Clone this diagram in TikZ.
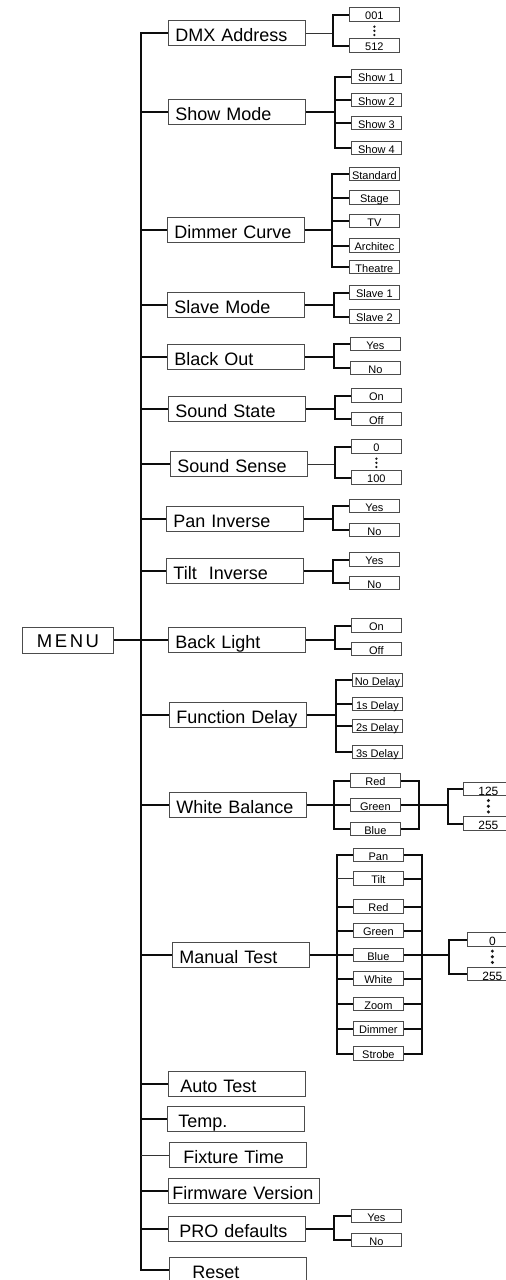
\documentclass[tikz,border=0pt]{standalone}
\usepackage{fontspec}
\setmainfont{Liberation Sans}
\usetikzlibrary{positioning,calc}

\begin{document}
\begin{tikzpicture}[x=1pt, y=-1pt,
    mainbox/.style={draw=black!70, line width=0.9pt, rectangle, anchor=west, align=left, text width=123pt, inner xsep=7pt, inner ysep=0pt, minimum height=24.5pt, text height=16.5pt, text depth=0pt, font=\fontsize{18}{18}\selectfont},
    menubox/.style={draw=black!70, line width=0.9pt, rectangle, anchor=west, inner sep=0pt, minimum width=91pt, minimum height=26pt, text height=14pt, text depth=0pt, font={\fontsize{18.5}{18.5}\selectfont\addfontfeature{LetterSpace=14}}},
    subbox/.style={draw=black!70, line width=0.8pt, rectangle, anchor=west, inner sep=0pt, minimum width=50pt, minimum height=13.5pt, text height=10pt, text depth=0pt, font=\fontsize{11}{11}\selectfont},
    numbox/.style={subbox, text height=12pt, font=\fontsize{12}{12}\selectfont},
    link/.style={line width=2pt, draw=black!95},
    thinlink/.style={line width=1pt, draw=black!80}]

    \useasboundingbox (0,0) rectangle (506,1280);

    % menu and first level
    \node[menubox] (menu) at (22,640) {MENU};

    \node[mainbox] (dmx) at (168,33) {DMX Address};
    \node[mainbox] (showmode) at (168,112) {Show Mode};
    \node[mainbox] (dimmer) at (167,230) {Dimmer Curve};
    \node[mainbox] (slave) at (167,305) {Slave Mode};
    \node[mainbox] (blackout) at (167,357) {Black Out};
    \node[mainbox] (sstate) at (168,409) {Sound State};
    \node[mainbox] (ssense) at (170,464) {Sound Sense};
    \node[mainbox] (pan) at (166,519) {Pan Inverse};
    \node[mainbox] (tilt) at (166,571) {Tilt\ \ Inverse};
    \node[mainbox] (backlight) at (168,640) {Back Light};
    \node[mainbox] (fdelay) at (169,715) {Function Delay};
    \node[mainbox] (wbal) at (169,805) {White Balance};
    \node[mainbox] (mtest) at (172,955) {Manual Test};
    \node[mainbox] (autotest) at (168,1084) {\hspace*{5pt}Auto Test};
    \node[mainbox] (temp) at (167,1119) {\hspace*{4pt}Temp.};
    \node[mainbox] (fixture) at (169,1155) {\hspace*{7pt}Fixture Time};
    \node[mainbox, text width=143pt, inner xsep=4pt] (firmware) at (168,1191) {Firmware Version};
    \node[mainbox] (prodef) at (168,1229) {\hspace*{4pt}PRO defaults};
    \node[mainbox] (reset) at (169,1270) {\hspace*{16pt}Reset};

    % second level
    \node[subbox] (a001) at (349,14.5) {001};
    \node[subbox] (a512) at (349,45.5) {512};

    \node[subbox] (show1) at (351,76.5) {Show 1};
    \node[subbox] (show2) at (351,100) {Show 2};
    \node[subbox] (show3) at (351,123) {Show 3};
    \node[subbox] (show4) at (351,148) {Show 4};

    \node[subbox] (standard) at (349,174) {Standard};
    \node[subbox] (stage) at (349,197.5) {Stage};
    \node[subbox] (tv) at (349,221) {TV};
    \node[subbox] (architec) at (349,245.5) {Architec};
    \node[subbox] (theatre) at (349,267) {Theatre};

    \node[subbox] (slave1) at (349,292.5) {Slave 1};
    \node[subbox] (slave2) at (349,316.5) {Slave 2};

    \node[subbox] (boyes) at (350,344) {Yes};
    \node[subbox] (bono) at (350,368) {No};

    \node[subbox] (sson) at (351,395.5) {On};
    \node[subbox] (ssoff) at (351,419) {Off};

    \node[subbox] (sens0) at (351,446.5) {0};
    \node[subbox] (sens100) at (351,477.5) {100};

    \node[subbox] (panyes) at (349,506) {Yes};
    \node[subbox] (panno) at (349,530) {No};

    \node[subbox] (tiltyes) at (349,559.5) {Yes};
    \node[subbox] (tiltno) at (349,583) {No};

    \node[subbox] (blon) at (351,625.5) {On};
    \node[subbox] (bloff) at (351,649) {Off};

    \node[subbox] (nodelay) at (352,680) {No Delay};
    \node[subbox] (delay1) at (352,704) {1s Delay};
    \node[subbox] (delay2) at (352,726) {2s Delay};
    \node[subbox] (delay3) at (352,752) {3s Delay};

    \node[subbox] (wbred) at (350,780.5) {Red};
    \node[subbox] (wbgreen) at (350,805) {Green};
    \node[subbox] (wbblue) at (350,829) {Blue};
    \node[numbox] (wb125) at (463,789) {125};
    \node[numbox] (wb255) at (463,823.5) {255};

    \node[subbox] (mtpan) at (353,855) {Pan};
    \node[subbox] (mttilt) at (353,878.5) {Tilt};
    \node[subbox] (mtred) at (353,906.5) {Red};
    \node[subbox] (mtgreen) at (353,930.5) {Green};
    \node[subbox] (mtblue) at (353,955) {Blue};
    \node[subbox] (mtwhite) at (353,978.5) {White};
    \node[subbox] (mtzoom) at (353,1004) {Zoom};
    \node[subbox] (mtdimmer) at (353,1028.5) {Dimmer};
    \node[subbox] (mtstrobe) at (353,1053.5) {Strobe};
    \node[numbox] (mt0) at (467,939.5) {0};
    \node[numbox] (mt255) at (467,974) {255};

    \node[subbox] (proyes) at (351,1216) {Yes};
    \node[subbox] (prono) at (351,1240) {No};

    % branch points
    \coordinate[left=27pt of dmx.west] (trunk);
    \coordinate[right=27pt of dmx.east] (dmxfork);
    \coordinate[right=29pt of showmode.east] (showfork);
    \coordinate[right=27pt of dimmer.east] (dimfork);
    \coordinate[right=29pt of slave.east] (slavefork);
    \coordinate[right=29pt of blackout.east] (bofork);
    \coordinate[right=29pt of sstate.east] (ssfork);
    \coordinate[right=27pt of ssense.east] (sensfork);
    \coordinate[right=29pt of pan.east] (panfork);
    \coordinate[right=29pt of tilt.east] (tiltfork);
    \coordinate[right=29pt of backlight.east] (blfork);
    \coordinate[right=29pt of fdelay.east] (fdfork);
    \coordinate[right=27pt of wbal.east] (wbfork);
    \coordinate[right=18pt of wbgreen.east] (wbjoin);
    \coordinate[right=29pt of wbjoin] (wbfork2);
    \coordinate[right=27pt of mtest.east] (mtfork);
    \coordinate[right=18pt of mtblue.east] (mtjoin);
    \coordinate[right=27pt of mtjoin] (mtfork2);
    \coordinate[right=28pt of prodef.east] (profork);

    % trunk
    \draw[link] (dmx.west) -- (dmx.west -| trunk) -- (reset.west -| trunk) -- (reset.west);
    \draw[link] (menu.east) -- (menu.east -| trunk);
    \draw[link] (showmode.west -| trunk) -- (showmode.west);
    \draw[link] (dimmer.west -| trunk) -- (dimmer.west);
    \draw[link] (slave.west -| trunk) -- (slave.west);
    \draw[link] (blackout.west -| trunk) -- (blackout.west);
    \draw[link] (sstate.west -| trunk) -- (sstate.west);
    \draw[link] (ssense.west -| trunk) -- (ssense.west);
    \draw[link] (pan.west -| trunk) -- (pan.west);
    \draw[link] (tilt.west -| trunk) -- (tilt.west);
    \draw[link] (backlight.west -| trunk) -- (backlight.west);
    \draw[link] (fdelay.west -| trunk) -- (fdelay.west);
    \draw[link] (wbal.west -| trunk) -- (wbal.west);
    \draw[link] (mtest.west -| trunk) -- (mtest.west);
    \draw[link] (autotest.west -| trunk) -- (autotest.west);
    \draw[link] (temp.west -| trunk) -- (temp.west);
    \draw[thinlink] (fixture.west -| trunk) -- (fixture.west);
    \draw[link] (firmware.west -| trunk) -- (firmware.west);
    \draw[link] (prodef.west -| trunk) -- (prodef.west);

    % brackets
    \draw[thinlink] (dmx.east) -- (dmxfork);
    \draw[link] (a001.west) -| (dmxfork) |- (a512.west);

    \draw[link] (showmode.east) -- (showfork);
    \draw[link] (show1.west) -| (showfork) |- (show4.west);
    \draw[link] (show2.west) -- (show2.west -| showfork);
    \draw[link] (show3.west) -- (show3.west -| showfork);

    \draw[link] (dimmer.east) -- (dimfork);
    \draw[link] (standard.west) -| (dimfork) |- (theatre.west);
    \draw[link] (stage.west) -- (stage.west -| dimfork);
    \draw[link] (tv.west) -- (tv.west -| dimfork);
    \draw[link] (architec.west) -- (architec.west -| dimfork);

    \draw[link] (slave.east) -- (slavefork);
    \draw[link] (slave1.west) -| (slavefork) |- (slave2.west);

    \draw[link] (blackout.east) -- (bofork);
    \draw[link] (boyes.west) -| (bofork) |- (bono.west);

    \draw[link] (sstate.east) -- (ssfork);
    \draw[link] (sson.west) -| (ssfork) |- (ssoff.west);

    \draw[thinlink] (ssense.east) -- (sensfork);
    \draw[link] (sens0.west) -| (sensfork) |- (sens100.west);

    \draw[link] (pan.east) -- (panfork);
    \draw[link] (panyes.west) -| (panfork) |- (panno.west);

    \draw[link] (tilt.east) -- (tiltfork);
    \draw[link] (tiltyes.west) -| (tiltfork) |- (tiltno.west);

    \draw[link] (backlight.east) -- (blfork);
    \draw[link] (blon.west) -| (blfork) |- (bloff.west);

    \draw[link] (fdelay.east) -- (fdfork);
    \draw[link] (nodelay.west) -| (fdfork) |- (delay3.west);
    \draw[link] (delay1.west) -- (delay1.west -| fdfork);
    \draw[link] (delay2.west) -- (delay2.west -| fdfork);

    \draw[link] (wbal.east) -- (wbfork);
    \draw[link] (wbred.west) -| (wbfork) |- (wbblue.west);
    \draw[link] (wbgreen.west) -- (wbgreen.west -| wbfork);
    \draw[link] (wbred.east) -| (wbjoin) |- (wbblue.east);
    \draw[link] (wbgreen.east) -- (wbjoin) -- (wbfork2);
    \draw[link] (wb125.west) -| (wbfork2) |- (wb255.west);

    \draw[link] (mtest.east) -- (mtfork);
    \draw[link] (mtpan.west) -| (mtfork) |- (mtstrobe.west);
    \draw[link] (mtpan.east) -| (mtjoin) |- (mtstrobe.east);
    \draw[thinlink] (mttilt.west) -- (mttilt.west -| mtfork);
    \draw[link] (mttilt.east) -- (mttilt.east -| mtjoin);
    \foreach \n in {mtred,mtgreen,mtblue,mtwhite,mtzoom,mtdimmer} {
        \draw[link] (\n.west) -- (\n.west -| mtfork);
        \draw[link] (\n.east) -- (\n.east -| mtjoin);
    }
    \draw[link] (mtjoin) -- (mtfork2);
    \draw[link] (mt0.west) -| (mtfork2) |- (mt255.west);

    \draw[link] (prodef.east) -- (profork);
    \draw[link] (proyes.west) -| (profork) |- (prono.west);

    % dots for ranges
    \foreach \t in {0.3,0.55,0.8} {
        \fill[black!90] ($(a001.south)!\t!(a512.north)$) circle (1.3pt);
        \fill[black!90] ($(sens0.south)!\t!(sens100.north)$) circle (1.3pt);
    }
    \foreach \t in {0.22,0.5,0.78} {
        \fill[black!90] ($(wb125.south)!\t!(wb255.north)$) circle (1.7pt);
        \fill[black!90] ($(mt0.south)!\t!(mt255.north)$) circle (1.7pt);
    }
\end{tikzpicture}
\end{document}
